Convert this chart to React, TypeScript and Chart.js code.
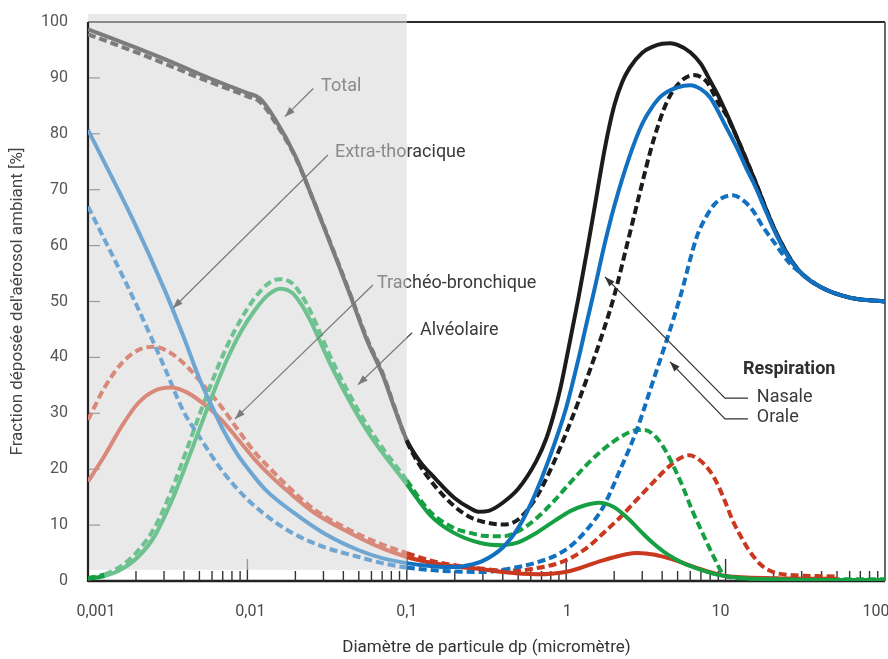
import React, { useEffect, useRef } from 'react';
import { Chart, registerables } from 'chart.js';

Chart.register(...registerables);

const FONT = "Roboto, 'DejaVu Sans', sans-serif";

// ---- axis ticks ----
const xTickValues = [0.001, 0.01, 0.1, 1, 10, 100];
const xTickLabels = ['0,001', '0,01', '0,1', '1', '10', '100'];
const minorMantissas = [2, 3, 4, 5, 6, 7, 8, 9];

// ---- Total, nasal (solid black) ----
const totalNasalX = [0.001, 0.002, 0.003, 0.005, 0.007, 0.01, 0.012, 0.015, 0.02, 0.0258, 0.035, 0.0446, 0.056, 0.0709, 0.085, 0.1, 0.12, 0.15, 0.2, 0.25, 0.28, 0.33, 0.4, 0.5, 0.65, 0.75, 0.83, 0.92, 1, 1.1, 1.2, 1.35, 1.5, 1.75, 2, 2.25, 2.5, 3, 3.5, 4, 4.5, 5, 6, 7, 8, 9, 10, 12, 15, 20, 25, 30, 40, 60, 100];
const totalNasalY = [98.7, 95.4, 93.4, 90.7, 89, 87.3, 86.3, 82.5, 76, 68.3, 58.6, 50.8, 43.2, 36.7, 30.4, 25.2, 21.5, 18.4, 14.8, 13, 12.4, 12.6, 14, 16.5, 21.5, 25.5, 29.5, 34.5, 39.5, 45.5, 51, 59, 66.5, 77.5, 85, 89.3, 91.8, 94.5, 95.6, 96.1, 96.2, 95.9, 94.6, 92.5, 89.5, 86.8, 84, 78.8, 72.2, 63.3, 58, 55, 52.5, 50.7, 50];

// ---- Total, oral (dashed black) ----
const totalOralX = [0.001, 0.002, 0.003, 0.005, 0.007, 0.01, 0.012, 0.015, 0.02, 0.0258, 0.035, 0.0446, 0.056, 0.0709, 0.085, 0.1, 0.12, 0.15, 0.2, 0.25, 0.3, 0.4, 0.5, 0.65, 0.83, 1.05, 1.34, 1.7, 2, 2.4, 2.9, 3.5, 4.3, 5.2, 6.3, 7.6, 9.1, 10, 12, 15, 20, 25, 30, 40, 60, 100];
const totalOralY = [97.8, 94.6, 92.6, 90, 88.4, 86.7, 85.7, 82, 75.8, 68.3, 58.8, 51, 43.5, 37, 30.6, 25, 20.8, 17, 13.3, 11.4, 10.6, 10.1, 11, 15, 21, 28, 36, 44.5, 51, 60, 69.5, 78.5, 85.8, 89.3, 90.5, 89.3, 85.3, 83.6, 78.8, 72.2, 63.3, 58, 55, 52.5, 50.7, 50];

// ---- Extra-thoracique, nasal (solid blue) ----
const etNasalX = [0.001, 0.002, 0.003, 0.004, 0.005, 0.006, 0.007, 0.0085, 0.01, 0.013, 0.02, 0.03, 0.05, 0.07, 0.1, 0.15, 0.2, 0.25, 0.3, 0.4, 0.5, 0.6, 0.7, 0.85, 1, 1.2, 1.34, 1.5, 1.75, 2, 2.5, 3, 3.5, 4, 5, 6, 7, 8, 10, 12, 13.6, 15, 18, 20, 24, 30, 40, 60, 100];
const etNasalY = [80.7, 63.5, 52.3, 43.5, 36.2, 31.2, 27.2, 23, 20.2, 16.3, 12, 8.6, 5.5, 4.1, 3.2, 2.6, 2.5, 2.9, 3.6, 6, 9.5, 13.8, 18.3, 24.8, 31, 40, 46, 52, 60.5, 67, 76, 81.8, 85, 86.9, 88.3, 88.7, 88, 86.5, 81.4, 77, 73.6, 71.2, 66, 63, 58.6, 55, 52.5, 50.7, 50];

// ---- Extra-thoracique, oral (dashed blue) ----
const etOralX = [0.001, 0.0013, 0.0017, 0.0022, 0.0025, 0.003, 0.004, 0.005, 0.007, 0.01, 0.015, 0.02, 0.03, 0.05, 0.07, 0.1, 0.15, 0.2, 0.3, 0.4, 0.5, 0.65, 0.85, 1.05, 1.34, 1.71, 2.18, 2.77, 3.53, 4.27, 5.2, 6.6, 7.5, 8.4, 9.5, 11.1, 13, 14.9, 17, 19.9, 25.3, 30, 40, 60, 100];
const etOralY = [67, 60.5, 53.8, 47, 43.5, 38.4, 30.2, 25.8, 19.6, 14.6, 10.5, 8.3, 6.1, 4.3, 3.2, 2.4, 1.9, 1.7, 1.6, 2, 2.5, 3.3, 4.5, 6.1, 9.1, 13.3, 19.9, 27, 36, 43.1, 50.9, 61.6, 65, 67.2, 68.5, 69, 68, 66.2, 63.5, 60.8, 56.8, 55, 52.5, 50.7, 50];

// ---- Trachéo-bronchique, nasal (solid green) ----
const tbNasalX = [0.001, 0.00127, 0.00162, 0.00206, 0.0026, 0.0033, 0.0042, 0.0051, 0.0061, 0.0075, 0.0091, 0.0111, 0.0135, 0.016, 0.019, 0.022, 0.0247, 0.0346, 0.056, 0.1, 0.14, 0.195, 0.29, 0.4, 0.5, 0.65, 0.85, 1.06, 1.3, 1.6, 2, 2.5, 3, 3.5, 4.3, 5.5, 7, 9, 12, 20, 50, 100];
const tbNasalY = [0.4, 0.9, 2.1, 4.3, 7.9, 13.9, 21.4, 27.8, 33.6, 39.8, 44.6, 48.4, 51.2, 52.3, 51.6, 49.3, 46.7, 37.7, 27, 17.3, 11.8, 8.7, 6.8, 6.4, 6.9, 8.6, 10.8, 12.5, 13.5, 14, 13.2, 10.9, 8.6, 6.8, 4.8, 3.1, 2, 1.1, 0.6, 0.3, 0.2, 0.2];

// ---- Trachéo-bronchique, oral (dashed green) ----
const tbOralX = [0.001, 0.00127, 0.0016, 0.002, 0.0026, 0.0033, 0.0042, 0.0051, 0.0061, 0.0075, 0.0091, 0.0111, 0.0135, 0.016, 0.019, 0.022, 0.0247, 0.0346, 0.056, 0.1, 0.14, 0.2, 0.25, 0.3, 0.4, 0.5, 0.65, 0.85, 1.06, 1.4, 1.7, 2.2, 2.8, 3.1, 3.7, 4.3, 4.9, 5.4, 6.2, 7, 8.1, 8.6, 9.6, 11, 20, 50, 100];
const tbOralY = [0.5, 1.2, 2.6, 5, 9.4, 15.8, 23.8, 30.4, 36.2, 42.2, 46.8, 50.6, 53.2, 54, 53.3, 51, 48.4, 39, 28, 18, 12.4, 9.4, 8.6, 8.1, 8, 8.9, 11.2, 14.5, 17.6, 21.3, 23.5, 25.8, 27, 27, 25.6, 22.8, 19.5, 16.8, 12.5, 9.2, 5.3, 3.8, 1.3, 0.6, 0.4, 0.3, 0.3];

// ---- Alvéolaire, nasal (solid red) ----
const alNasalX = [0.001, 0.00127, 0.00162, 0.00206, 0.0026, 0.0033, 0.0042, 0.0057, 0.0069, 0.0087, 0.011, 0.014, 0.018, 0.026, 0.042, 0.068, 0.1, 0.14, 0.2, 0.28, 0.4, 0.65, 1.06, 1.7, 2.8, 3.6, 4.6, 7, 10, 20, 50];
const alNasalY = [17.8, 22.4, 27.6, 31.8, 34, 34.6, 33.7, 31, 28.8, 25.4, 21.9, 18.8, 16, 12.3, 8.9, 6, 4.3, 3.3, 2.6, 2.2, 1.6, 1.2, 1.8, 3.7, 5, 4.7, 3.9, 2.1, 0.9, 0.5, 0.4];

// ---- Alvéolaire, oral (dashed red) ----
const alOralX = [0.001, 0.00127, 0.00162, 0.00206, 0.0026, 0.0033, 0.0042, 0.0054, 0.0069, 0.0087, 0.011, 0.014, 0.018, 0.026, 0.042, 0.068, 0.1, 0.14, 0.2, 0.3, 0.4, 0.5, 0.65, 0.85, 1.05, 1.4, 1.7, 2.2, 2.7, 3.5, 4.3, 5.2, 5.9, 6.9, 8, 8.8, 10, 11, 12.9, 14, 16.5, 18, 21, 25, 50];
const alOralY = [28.8, 34.6, 38.9, 41.3, 41.9, 40.8, 38.3, 34.8, 31.1, 27.1, 23.2, 20, 16.9, 12.9, 9.4, 6.7, 5, 3.7, 2.8, 2.2, 1.9, 1.9, 2.3, 3, 4, 6.3, 8.5, 11.5, 14.2, 17.6, 20.2, 22, 22.5, 21.6, 19.6, 17.6, 14, 11, 7.2, 5.5, 3, 2.2, 1.4, 1.1, 0.8];

// ---- annotation texts ----
const regionLabels = ['Total', 'Extra-thoracique', 'Trachéo-bronchique', 'Alvéolaire'];
const legendTitle = 'Respiration';
const legendLabels = ['Nasale', 'Orale'];
const xTitle = 'Diamètre de particule dp (micromètre)';
const yTitle = "Fraction déposée del'aérosol ambiant [%]";

// ---- layout / style (positions in data coordinates [diameter, %]) ----
const regionNotes = [
  { at: [0.029, 88.5], path: [[0.0259, 88.1], [0.0172, 83.06]] },
  { at: [0.0354, 76.6], path: [[0.032, 76.2], [0.00341, 48.8]] },
  { at: [0.065, 53.3], path: [[0.0613, 52.95], [0.00836, 29.0]] },
  { at: [0.121, 44.9], path: [[0.1078, 44.4], [0.0494, 35.1]] },
];
const legendNotes = [
  { at: [15.7, 32.9], path: [[13.82, 32.7], [9.91, 32.7], [1.75, 54.4]] },
  { at: [15.7, 29.2], path: [[13.82, 29.0], [9.91, 29.0], [4.48, 39.2]] },
];
const legendTitleAt = [12.85, 37.9];
const xLabelNudge = [8, 3, 0, 1, -5, -9];
const shadeUntil = 0.1;   // grey zone: diameters below 0.1 µm
const shadeFloor = 2;     // grey zone stops just above the tick marks

const COLORS = {
  black: ['#1c1c1c', '#7c7c7c'],
  blue: ['#1170bf', '#70a6d2'],
  green: ['#16a043', '#6dc290'],
  red: ['#c9381f', '#d8897a'],
};

const pts = (xs: number[], ys: number[]) => xs.map((x, i) => ({ x, y: ys[i] }));

function drawArrow(ctx: CanvasRenderingContext2D, p: number[][], color: string) {
  ctx.strokeStyle = color;
  ctx.fillStyle = color;
  ctx.lineWidth = 1.2;
  ctx.beginPath();
  ctx.moveTo(p[0][0], p[0][1]);
  for (let i = 1; i < p.length; i++) ctx.lineTo(p[i][0], p[i][1]);
  ctx.stroke();
  const [x1, y1] = p[p.length - 2];
  const [x2, y2] = p[p.length - 1];
  const a = Math.atan2(y2 - y1, x2 - x1);
  const L = 10, W = 3.6;
  ctx.beginPath();
  ctx.moveTo(x2, y2);
  ctx.lineTo(x2 - L * Math.cos(a) + W * Math.sin(a), y2 - L * Math.sin(a) - W * Math.cos(a));
  ctx.lineTo(x2 - L * Math.cos(a) - W * Math.sin(a), y2 - L * Math.sin(a) + W * Math.cos(a));
  ctx.closePath();
  ctx.fill();
}

function shadeBox(chart: any) {
  const { chartArea: a, scales } = chart;
  return { l: a.left, t: a.top - 8, r: scales.x.getPixelForValue(shadeUntil), b: scales.y.getPixelForValue(shadeFloor) };
}

function twoTone(chart: any, draw: (light: boolean) => void) {
  const { ctx } = chart;
  const b = shadeBox(chart);
  ctx.save();
  ctx.beginPath();
  ctx.rect(b.l, b.t, b.r - b.l, b.b - b.t);
  ctx.clip();
  draw(true);
  ctx.restore();
  ctx.save();
  ctx.beginPath();
  ctx.rect(0, 0, chart.width, chart.height);
  ctx.rect(b.l, b.t, b.r - b.l, b.b - b.t);
  ctx.clip('evenodd');
  draw(false);
  ctx.restore();
}

const decor = {
  id: 'decor',
  beforeDatasetsDraw(chart: any) {
    const { ctx, chartArea: a, scales } = chart;
    const x = scales.x, y = scales.y;
    const b = shadeBox(chart);
    ctx.save();
    ctx.fillStyle = '#e9e9e9';
    ctx.fillRect(b.l, b.t, b.r - b.l, b.b - b.t);
    ctx.restore();
    ctx.save();
    // top frame
    twoTone(chart, (light) => {
      ctx.strokeStyle = light ? '#8a8a8a' : '#2a2a2a';
      ctx.lineWidth = 2;
      ctx.beginPath();
      ctx.moveTo(a.left, a.top);
      ctx.lineTo(a.right, a.top);
      ctx.stroke();
    });
    ctx.strokeStyle = '#444';
    ctx.lineWidth = 1.6;
    ctx.beginPath();
    ctx.moveTo(a.right, a.top);
    ctx.lineTo(a.right, a.bottom);
    ctx.stroke();
    // bottom axis
    ctx.strokeStyle = '#222';
    ctx.lineWidth = 2.5;
    ctx.beginPath();
    ctx.moveTo(a.left, a.bottom);
    ctx.lineTo(a.right, a.bottom);
    ctx.stroke();
    // left axis
    ctx.lineWidth = 2.2;
    ctx.beginPath();
    ctx.moveTo(a.left, a.top);
    ctx.lineTo(a.left, a.bottom + 1);
    ctx.stroke();
    // x ticks (inward)
    twoTone(chart, (light) => {
      ctx.lineWidth = 1.4;
      ctx.strokeStyle = light ? '#9a9a9a' : '#333';
      for (let k = -3; k <= 1; k++) {
        const base = Math.pow(10, k);
        if (k > -3) {
          const px = x.getPixelForValue(base);
          ctx.beginPath();
          ctx.moveTo(px, a.bottom);
          ctx.lineTo(px, a.bottom - 22);
          ctx.stroke();
        }
        for (const m of minorMantissas) {
          const px = x.getPixelForValue(m * base);
          ctx.beginPath();
          ctx.moveTo(px, a.bottom);
          ctx.lineTo(px, a.bottom - 10);
          ctx.stroke();
        }
      }
    });
    // y ticks (inward)
    ctx.strokeStyle = '#9a9a9a';
    ctx.lineWidth = 1.2;
    for (const t of y.ticks) {
      if (t.value <= 0 || t.value >= 100) continue;
      const py = y.getPixelForValue(t.value);
      ctx.beginPath();
      ctx.moveTo(a.left + 1, py);
      ctx.lineTo(a.left + 12, py);
      ctx.stroke();
    }
    // x tick labels
    ctx.fillStyle = '#4a4a4a';
    ctx.font = `16px ${FONT}`;
    ctx.textAlign = 'center';
    ctx.textBaseline = 'middle';
    xTickValues.forEach((v, i) => {
      ctx.fillText(xTickLabels[i], x.getPixelForValue(v) + xLabelNudge[i], a.bottom + 31);
    });
    ctx.restore();
  },
  afterDatasetsDraw(chart: any) {
    const { ctx, scales } = chart;
    const x = scales.x, y = scales.y;
    const P = (v: number[]) => [x.getPixelForValue(v[0]), y.getPixelForValue(v[1])];
    ctx.save();
    ctx.textBaseline = 'middle';
    ctx.textAlign = 'left';
    twoTone(chart, (light) => {
      ctx.font = `18px ${FONT}`;
      regionNotes.forEach((n, i) => {
        ctx.fillStyle = light ? '#8a8a8a' : '#3a3a3a';
        const [tx, ty] = P(n.at);
        ctx.fillText(regionLabels[i], tx, ty);
        drawArrow(ctx, n.path.map(P), light ? '#7a7a7a' : '#444');
      });
    });
    ctx.fillStyle = '#2e2e2e';
    ctx.font = `bold 18px ${FONT}`;
    const [lx, ly] = P(legendTitleAt);
    ctx.fillText(legendTitle, lx, ly);
    ctx.font = `18px ${FONT}`;
    legendNotes.forEach((n, i) => {
      ctx.fillStyle = '#3a3a3a';
      const [tx, ty] = P(n.at);
      ctx.fillText(legendLabels[i], tx, ty);
      drawArrow(ctx, n.path.map(P), '#333');
    });
    ctx.restore();
  },
};

export default function App() {
  const ref = useRef<HTMLCanvasElement>(null);
  useEffect(() => {
    const seg = (pair: string[]) => ({
      borderColor: (c: any) =>
        c.p0.parsed.x < shadeUntil - 1e-12 && Math.max(c.p0.parsed.y, c.p1.parsed.y) > shadeFloor ? pair[1] : pair[0],
    });
    const solid = (label: string, xs: number[], ys: number[], pair: string[]) => ({
      label, data: pts(xs, ys), borderColor: pair[0], borderWidth: 4, pointRadius: 0, fill: false,
      cubicInterpolationMode: 'monotone' as const, borderJoinStyle: 'round' as const, segment: seg(pair),
    });
    const dashed = (label: string, xs: number[], ys: number[], pair: string[]) => ({
      ...solid(label, xs, ys, pair), borderDash: [8, 4], borderCapStyle: 'butt' as const,
    });
    const chart = new Chart(ref.current as HTMLCanvasElement, {
      type: 'line',
      data: {
        datasets: [
          solid('Extra-thoracique nasale', etNasalX, etNasalY, COLORS.blue),
          solid('Trachéo-bronchique nasale', tbNasalX, tbNasalY, COLORS.green),
          solid('Alvéolaire nasale', alNasalX, alNasalY, COLORS.red),
          solid('Total nasale', totalNasalX, totalNasalY, COLORS.black),
          dashed('Extra-thoracique orale', etOralX, etOralY, COLORS.blue),
          dashed('Trachéo-bronchique orale', tbOralX, tbOralY, COLORS.green),
          dashed('Alvéolaire orale', alOralX, alOralY, COLORS.red),
          dashed('Total orale', totalOralX, totalOralY, COLORS.black),
        ] as any,
      },
      options: {
        animation: false,
        responsive: false,
        events: [],
        layout: { padding: { top: 22, right: 3, left: 0, bottom: 0 } },
        plugins: { legend: { display: false }, tooltip: { enabled: false } },
        scales: {
          x: {
            type: 'logarithmic',
            min: 0.001,
            max: 100,
            grid: { display: false },
            border: { display: false },
            afterFit: (s: any) => { s.height = 78; s.paddingLeft = 0; s.paddingRight = 0; },
            ticks: { display: false },
            title: {
              display: true,
              text: xTitle,
              color: '#333',
              font: { family: FONT, size: 17 },
              padding: { top: 0, bottom: 1 },
            },
          },
          y: {
            min: 0,
            max: 100,
            grid: { display: false },
            border: { display: false },
            afterFit: (s: any) => { s.width = 88; s.paddingTop = 0; s.paddingBottom = 0; },
            ticks: { stepSize: 10, padding: 12, color: '#555', font: { family: FONT, size: 16 } },
            title: {
              display: true,
              text: yTitle,
              color: '#444',
              font: { family: FONT, size: 17 },
              padding: { top: 8, bottom: 0 },
            },
          },
        },
      } as any,
      plugins: [decor],
    });
    return () => chart.destroy();
  }, []);
  return (
    <div style={{ position: 'fixed', left: 0, top: 0, width: 888, height: 659, background: '#fff' }}>
      <canvas ref={ref} width={888} height={659} style={{ display: 'block' }} />
    </div>
  );
}
